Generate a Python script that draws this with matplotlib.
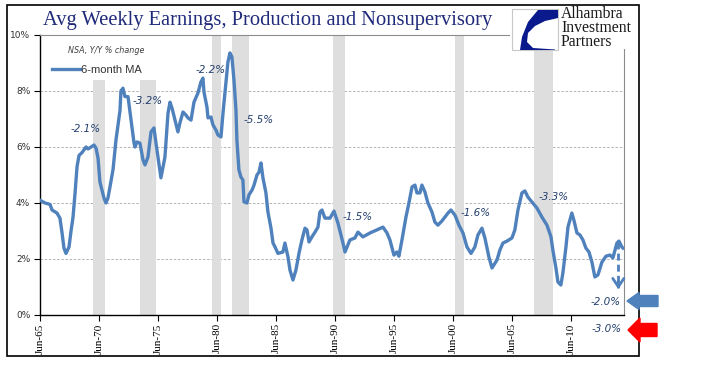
import numpy as np
import matplotlib.pyplot as plt
from matplotlib.patches import Rectangle, Polygon, FancyArrow

# 6-month MA of Y/Y % change (decimal year, %)
years = [1965.50, 1965.92, 1966.35, 1966.52, 1966.94, 1967.19, 1967.36, 1967.53, 1967.70, 1967.96,
         1968.13, 1968.30, 1968.47, 1968.64, 1968.81, 1969.06, 1969.23, 1969.40, 1969.57, 1969.82,
         1970.08, 1970.25, 1970.42, 1970.58, 1970.75, 1970.92, 1971.09, 1971.26, 1971.43, 1971.69,
         1971.94, 1972.28, 1972.36, 1972.53, 1972.70, 1972.96, 1973.21, 1973.47, 1973.55, 1973.72,
         1973.97, 1974.23, 1974.40, 1974.65, 1974.91, 1975.16, 1975.33, 1975.75, 1976.09, 1976.35,
         1976.52, 1976.69, 1976.94, 1977.19, 1977.36, 1977.62, 1977.87, 1978.04, 1978.30, 1978.55,
         1978.89, 1979.14, 1979.31, 1979.40, 1979.65, 1979.74, 1979.99, 1980.16, 1980.42, 1980.58,
         1980.84, 1981.01, 1981.26, 1981.43, 1981.60, 1981.77, 1981.94, 1982.11, 1982.19, 1982.36,
         1982.53, 1982.70, 1982.79, 1983.04, 1983.21, 1983.47, 1983.64, 1983.89, 1984.06, 1984.23,
         1984.40, 1984.65, 1984.82, 1985.08, 1985.25, 1985.42, 1985.67, 1986.09, 1986.26, 1986.52,
         1986.69, 1986.94, 1987.19, 1987.45, 1987.70, 1987.96, 1988.13, 1988.30, 1988.55, 1988.81,
         1989.06, 1989.23, 1989.40, 1989.65, 1990.08, 1990.42, 1990.75, 1991.18, 1991.35, 1991.77,
         1992.19, 1992.45, 1992.87, 1993.47, 1994.06, 1994.57, 1994.91, 1995.16, 1995.50, 1995.75,
         1995.92, 1996.18, 1996.52, 1996.77, 1997.03, 1997.28, 1997.45, 1997.70, 1997.87, 1998.13,
         1998.38, 1998.72, 1998.97, 1999.23, 1999.57, 1999.82, 2000.08, 2000.33, 2000.67, 2001.01,
         2001.35, 2001.69, 2002.03, 2002.36, 2002.62, 2002.96, 2003.21, 2003.55, 2003.81, 2004.23,
         2004.48, 2004.74, 2005.08, 2005.50, 2005.75, 2006.01, 2006.35, 2006.60, 2006.86, 2007.19,
         2007.62, 2008.04, 2008.47, 2008.81, 2008.97, 2009.23, 2009.40, 2009.65, 2009.82, 2010.08,
         2010.25, 2010.58, 2010.75, 2011.01, 2011.26, 2011.52, 2011.77, 2012.03, 2012.28, 2012.53,
         2012.79, 2013.13, 2013.47, 2013.81, 2014.06, 2014.40, 2014.57, 2014.82, 2014.91]
values = [4.10, 4.00, 3.95, 3.75, 3.64, 3.46, 2.96, 2.39, 2.20, 2.43,
          3.00, 3.50, 4.35, 5.30, 5.70, 5.80, 5.90, 6.00, 5.93, 6.00,
          6.07, 5.96, 5.60, 4.75, 4.46, 4.18, 4.00, 4.18, 4.57, 5.20,
          6.25, 7.30, 8.00, 8.10, 7.80, 7.80, 7.00, 6.14, 6.00, 6.18,
          6.14, 5.54, 5.36, 5.64, 6.54, 6.68, 6.14, 4.90, 5.64, 7.21,
          7.60, 7.39, 6.96, 6.54, 6.86, 7.25, 7.14, 7.04, 6.96, 7.60,
          7.93, 8.32, 8.46, 7.96, 7.43, 7.04, 7.07, 6.79, 6.60, 6.43,
          6.36, 7.21, 8.29, 9.04, 9.36, 9.21, 8.39, 7.32, 6.25, 5.18,
          4.93, 4.82, 4.04, 4.00, 4.29, 4.46, 4.64, 5.00, 5.10, 5.43,
          4.89, 4.36, 3.68, 3.10, 2.57, 2.43, 2.20, 2.25, 2.57, 2.07,
          1.60, 1.25, 1.60, 2.20, 2.68, 3.10, 3.04, 2.61, 2.79, 2.96,
          3.14, 3.68, 3.75, 3.46, 3.46, 3.71, 3.29, 2.57, 2.25, 2.68,
          2.75, 2.96, 2.79, 2.93, 3.04, 3.14, 2.93, 2.68, 2.14, 2.25,
          2.10, 2.68, 3.50, 4.00, 4.57, 4.64, 4.36, 4.36, 4.64, 4.39,
          4.00, 3.68, 3.32, 3.21, 3.36, 3.50, 3.64, 3.75, 3.57, 3.21,
          2.93, 2.43, 2.20, 2.43, 2.86, 3.10, 2.75, 2.07, 1.68, 1.96,
          2.32, 2.57, 2.64, 2.75, 3.04, 3.75, 4.36, 4.43, 4.21, 4.04,
          3.82, 3.50, 3.21, 2.79, 2.32, 1.68, 1.18, 1.07, 1.50, 2.43,
          3.14, 3.64, 3.39, 2.93, 2.86, 2.68, 2.39, 2.25, 1.89, 1.36,
          1.43, 1.89, 2.10, 2.14, 2.04, 2.57, 2.64, 2.43, 2.39]

# recession shading
rec_start = [1969.99, 1973.97, 1980.08, 1981.77, 1990.33, 2000.67, 2007.36]
rec_end = [1971.01, 1975.33, 1980.84, 1983.21, 1991.35, 2001.43, 2008.97]
rec_top = [8.4, 8.4, 10.0, 10.0, 10.0, 10.0, 9.5]

tick_years = [1965.5, 1970.5, 1975.5, 1980.5, 1985.5, 1990.5, 1995.5, 2000.5, 2005.5, 2010.5]
tick_labels = ['Jun-65', 'Jun-70', 'Jun-75', 'Jun-80', 'Jun-85',
               'Jun-90', 'Jun-95', 'Jun-00', 'Jun-05', 'Jun-10']

ann_labels = ['-2.1%', '-3.2%', '-2.2%', '-5.5%', '-1.5%', '-1.6%', '-3.3%', '-2.0%', '-3.0%']
ann_x = [1969.36, 1974.61, 1979.95, 1984.06, 1992.45, 2002.45, 2009.06, 2013.47, 2013.50]
ann_y = [6.64, 7.64, 8.75, 6.96, 3.50, 3.64, 4.21, 0.46, -0.50]

blue = '#4f81bd'
W, H = 705, 375

fig = plt.figure(figsize=(7.05, 3.75), dpi=100)


def fx(px):
    return px / W


def fy(py):
    return 1 - py / H


ax = fig.add_axes([fx(40), fy(315), fx(624) - fx(40), fy(35) - fy(315)])

ax.bar(rec_start, rec_top, width=np.subtract(rec_end, rec_start), align='edge',
       color='#dedede', zorder=1)
ax.plot(years, values, color=blue, lw=2.4, zorder=3, label='6-month MA',
        solid_joinstyle='round')

ax.set_xlim(1965.5, 2015.0)
ax.set_ylim(0, 10)
ax.set_axisbelow(True)
ax.yaxis.grid(True, ls=(0, (3, 2)), color='#a8a8a8', lw=0.6)

ax.set_xticks(tick_years, tick_labels, rotation=90, fontfamily='Liberation Serif', fontsize=8)
ax.set_yticks([0, 2, 4, 6, 8, 10], ['0%', '2%', '4%', '6%', '8%', '10%'], fontsize=6.5)
ax.tick_params(axis='x', length=4, pad=2, width=0.8)
ax.tick_params(axis='y', length=4, pad=3, width=0.8, labelcolor='#333333')
for s in ['left', 'bottom']:
    ax.spines[s].set_color('black')
    ax.spines[s].set_linewidth(1.0)
for s in ['top', 'right']:
    ax.spines[s].set_color('#8c8c8c')
    ax.spines[s].set_linewidth(0.8)

# legend and note
ax.text(28 / 584, 0.943, 'NSA, Y/Y % change', transform=ax.transAxes,
        style='italic', fontsize=5.8, color='#404040', va='center', ha='left')
ax.legend(loc='center left', bbox_to_anchor=(12 / 584, 245 / 280), frameon=False,
          borderpad=0, borderaxespad=0, handlelength=2.5, handletextpad=0.1,
          prop={'family': 'Liberation Sans', 'size': 8}, labelcolor='#333333')

# annotations
for lab, x, y in zip(ann_labels, ann_x, ann_y):
    ax.text(x, y, lab, ha='center', va='center', style='italic', fontsize=7.5,
            color='#243f6e', clip_on=False)

# dashed arrow from the latest reading
arrow_x = years[-3] - 0.05
ax.plot([arrow_x, arrow_x], [2.6, 0.95], ls=(0, (2.5, 1.5)), color=blue, lw=2, zorder=4)
ax.annotate('', xy=(arrow_x, 0.82), xytext=(arrow_x, 1.3),
            arrowprops=dict(arrowstyle='->,head_length=0.6,head_width=0.4', color=blue, lw=2))

# outer frame
fig.add_artist(Rectangle((fx(7), fy(356)), fx(639) - fx(7), fy(5) - fy(356), fill=False,
                         ec='black', lw=1.2, transform=fig.transFigure, zorder=6))

# title
fig.text(fx(43), fy(21), 'Avg Weekly Earnings, Production and Nonsupervisory',
         family='Liberation Serif', fontsize=14.8, color='#1f2a7a', ha='left', va='center')

# logo
tr = fig.dpi_scale_trans
fig.add_artist(Rectangle((5.10, (H - 49) / 100), 1.28, 0.43, fc='white', ec='none',
                         transform=tr, zorder=5))
fig.add_artist(Rectangle((5.12, (H - 50) / 100), 0.46, 0.41, fc='white', ec='#c8c8c8',
                         lw=0.8, transform=tr, zorder=6))
logo_px = [(538, 10), (558, 10), (558, 18), (545, 21), (535, 26), (528, 33), (527, 42),
           (533, 48), (555, 49.5), (555, 50), (520, 50), (522, 37), (528, 22)]
fig.add_artist(Polygon([(x / 100, (H - y) / 100) for x, y in logo_px], closed=True,
                       fc='#0a1a8c', ec='none', transform=tr, zorder=7))
fig.text(fx(561), fy(6), 'Alhambra\nInvestment\nPartners', family='Liberation Serif',
         fontsize=11.3, linespacing=0.82, color='#1a1a1a', ha='left', va='top', zorder=7)

# side arrows
fig.add_artist(FancyArrow(6.58, (H - 301) / 100, -0.31, 0, width=0.11, head_width=0.17,
                          head_length=0.12, length_includes_head=True, color=blue,
                          transform=tr, zorder=6))
fig.add_artist(FancyArrow(6.57, (H - 330) / 100, -0.29, 0, width=0.13, head_width=0.24,
                          head_length=0.12, length_includes_head=True, color='#ff0000',
                          transform=tr, zorder=6))

fig.savefig('out.png', dpi=100)
